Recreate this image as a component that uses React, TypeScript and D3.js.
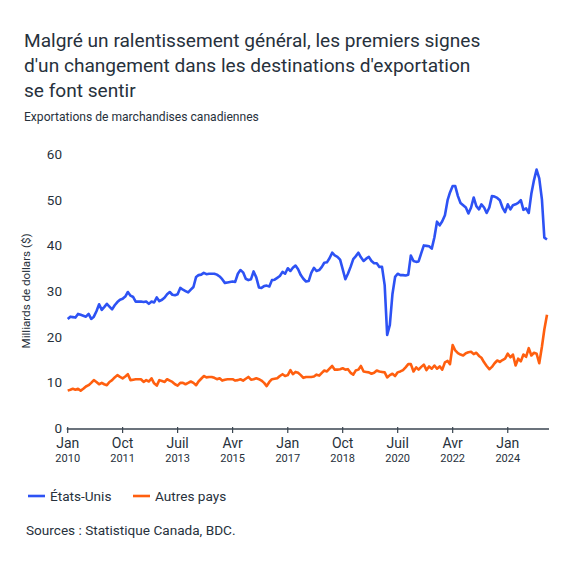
import React, { useEffect, useRef } from 'react';
import * as d3 from 'd3';

// monthly values, Jan 2010 onward (billions of $)
const usValues = [
  24.1, 24.6, 24.5, 24.4, 25.2, 25.0, 24.8, 24.6, 25.2, 24.1, 24.6, 25.8,
  27.3, 26.1, 26.7, 27.4, 26.8, 26.2, 27.1, 27.8, 28.3, 28.5, 29.0, 30.0,
  29.2, 28.9, 27.9, 27.9, 27.9, 27.8, 27.9, 27.4, 27.9, 27.7, 28.8, 28.0,
  28.3, 28.8, 29.5, 30.0, 29.4, 29.3, 29.5, 30.9, 30.5, 30.2, 29.9, 30.5,
  31.1, 33.3, 33.7, 33.8, 34.2, 33.9, 34.0, 34.0, 34.0, 33.8, 33.4, 32.8,
  32.0, 32.1, 32.2, 32.3, 32.2, 34.0, 34.8, 34.3, 32.9, 32.6, 32.8, 34.5,
  33.2, 31.0, 30.9, 31.3, 31.4, 31.2, 32.6, 32.7, 33.1, 33.5, 34.4, 34.0,
  35.2, 34.6, 35.3, 35.8, 35.0, 33.7, 32.9, 32.3, 32.4, 34.2, 35.3, 34.6,
  34.8, 35.5, 36.4, 36.5, 37.4, 38.6, 38.0, 37.7, 37.1, 35.0, 32.8, 34.0,
  35.5, 37.2, 37.8, 38.6, 37.6, 36.8, 37.3, 37.7, 36.8, 36.3, 36.3, 35.5,
  35.5, 31.5, 20.6, 22.8, 29.5, 33.3, 34.0, 33.7, 33.7, 33.6, 33.8, 38.0,
  36.8, 36.6, 36.7, 38.5, 40.2, 40.1, 40.0, 39.5, 42.0, 45.4, 44.6, 45.5,
  46.8, 50.1, 51.8, 53.2, 53.2, 51.0, 49.5, 49.0, 48.5, 47.2, 48.5, 50.7,
  48.8, 48.1, 49.2, 48.5, 47.3, 48.5, 51.0, 50.9, 50.6, 50.1, 48.5, 47.5,
  49.2, 48.1, 49.0, 49.2, 49.5, 50.1, 48.0, 48.3, 47.3, 51.5, 54.5, 56.8,
  54.9, 50.3, 41.9, 41.5,
];

const otherValues = [
  8.4, 8.6, 8.8, 8.6, 8.8, 8.4, 8.8, 9.3, 9.6, 10.1, 10.7, 10.3,
  9.8, 10.1, 9.8, 9.6, 10.3, 10.7, 11.3, 11.8, 11.4, 11.1, 11.5, 12.0,
  10.7, 10.8, 10.9, 10.9, 10.9, 10.3, 10.7, 10.4, 11.1, 10.0, 9.5, 10.7,
  10.5, 10.3, 10.9, 10.6, 10.3, 9.8, 9.5, 10.1, 10.1, 9.8, 10.1, 10.4,
  10.1, 9.6, 10.4, 11.0, 11.6, 11.3, 11.4, 11.4, 11.2, 10.9, 11.1, 10.6,
  10.8, 10.9, 10.9, 10.9, 10.6, 10.7, 10.9, 10.6, 11.0, 11.4, 10.8, 10.9,
  11.1, 10.9, 10.6, 10.1, 9.4, 10.3, 10.9, 11.0, 11.1, 11.6, 12.0, 11.6,
  11.8, 12.9, 12.0, 12.5, 12.3, 11.8, 11.2, 11.4, 11.4, 11.4, 11.5, 11.9,
  11.7, 12.3, 12.8, 12.6, 13.2, 13.8, 13.0, 13.0, 13.1, 13.3, 13.0, 13.1,
  12.3, 11.9, 12.8, 13.0, 13.8, 12.6, 12.5, 12.4, 12.1, 12.3, 12.8, 12.6,
  12.5, 12.4, 11.3, 11.8, 12.1, 11.6, 12.4, 12.6, 12.9, 13.5, 14.2, 14.2,
  12.6, 13.5, 13.0, 13.6, 14.1, 12.9, 13.7, 13.2, 13.9, 13.2, 13.7, 13.0,
  14.6, 14.9, 14.2, 18.4, 17.2, 16.6, 16.3, 16.1, 16.6, 16.8, 16.9, 16.4,
  16.7, 16.0, 15.6, 14.6, 13.8, 13.1, 13.6, 14.4, 15.0, 14.7, 15.1, 15.4,
  16.5, 15.7, 16.3, 13.9, 15.4, 14.8, 16.3, 15.8, 17.7, 16.1, 16.7, 16.5,
  14.4, 18.0, 21.8, 25.0,
];

const startMonth = new Date(2010, 0, 1);
const tickDates = ['2010-01', '2011-10', '2013-07', '2015-04', '2017-01', '2018-10', '2020-07', '2022-04', '2024-01'];
const tickMonths = ['Jan', 'Oct', 'Juil', 'Avr', 'Jan', 'Oct', 'Juil', 'Avr', 'Jan'];
const tickYears = ['2010', '2011', '2013', '2015', '2017', '2018', '2020', '2022', '2024'];
const yTicks = [0, 10, 20, 30, 40, 50, 60];

const seriesNames = ['États-Unis', 'Autres pays'];
const seriesColors = ['#2d52f4', '#ff5f0f'];

const titleLines = [
  'Malgré un ralentissement général, les premiers signes',
  "d'un changement dans les destinations d'exportation",
  'se font sentir',
];

const textColor = '#27313c';
const font = 'Roboto, "Noto Sans", sans-serif';

const App: React.FC = () => {
  const svgRef = useRef<SVGSVGElement | null>(null);

  useEffect(() => {
    if (!svgRef.current) return;
    const svg = d3.select(svgRef.current);
    svg.selectAll('*').remove();

    const lastDate = d3.timeMonth.offset(startMonth, usValues.length - 1);
    const x = d3.scaleTime().domain([startMonth, lastDate]).range([67.7, 547]);
    const y = d3.scaleLinear().domain([0, 60]).range([429, 155]);

    svg.append('rect').attr('width', 575).attr('height', 575).attr('fill', '#fff');

    // title + subtitle
    svg.selectAll('text.title')
      .data(titleLines)
      .join('text')
      .attr('class', 'title')
      .attr('x', 24)
      .attr('y', (_, i) => 47 + i * 25)
      .attr('font-size', 19.1)
      .attr('fill', textColor)
      .text((d) => d);

    svg.append('text')
      .attr('x', 24)
      .attr('y', 120.5)
      .attr('font-size', 12.1)
      .attr('fill', textColor)
      .text('Exportations de marchandises canadiennes');

    // y tick labels, no gridlines
    svg.selectAll('text.ytick')
      .data(yTicks)
      .join('text')
      .attr('class', 'ytick')
      .attr('x', 62)
      .attr('y', (d) => y(d))
      .attr('dy', '0.3em')
      .attr('text-anchor', 'end')
      .attr('font-size', 13.5)
      .attr('fill', textColor)
      .text((d) => d);

    svg.append('text')
      .attr('transform', `translate(29.5,${y(30) - 1}) rotate(-90)`)
      .attr('text-anchor', 'middle')
      .attr('font-size', 11.6)
      .attr('fill', textColor)
      .text('Milliards de dollars ($)');

    // x axis
    const parse = d3.timeParse('%Y-%m');
    const tDates = tickDates.map((d) => parse(d) as Date);
    svg.append('line')
      .attr('x1', x.range()[0] - 1)
      .attr('x2', 549)
      .attr('y1', y(0))
      .attr('y2', y(0))
      .attr('stroke', '#3a4550')
      .attr('stroke-width', 1.5);

    const tg = svg.selectAll('g.xtick')
      .data(tDates)
      .join('g')
      .attr('class', 'xtick')
      .attr('transform', (d) => `translate(${x(d)},${y(0)})`);
    tg.append('line').attr('y1', -2).attr('y2', 4).attr('stroke', '#3a4550').attr('stroke-width', 1.2);
    tg.append('text')
      .attr('y', 19)
      .attr('text-anchor', 'middle')
      .attr('font-size', 14)
      .attr('fill', textColor)
      .text((_, i) => tickMonths[i]);
    tg.append('text')
      .attr('y', 33)
      .attr('text-anchor', 'middle')
      .attr('font-size', 11)
      .attr('fill', textColor)
      .text((_, i) => tickYears[i]);

    // series lines
    const line = d3.line<number>()
      .x((_, i) => x(d3.timeMonth.offset(startMonth, i)))
      .y((d) => y(d));

    [usValues, otherValues].forEach((vals, k) => {
      svg.append('path')
        .datum(vals)
        .attr('fill', 'none')
        .attr('stroke', seriesColors[k])
        .attr('stroke-width', 2.6)
        .attr('stroke-linejoin', 'round')
        .attr('d', line);
    });

    // legend
    const legendX = [28, 133];
    const lg = svg.selectAll('g.legend')
      .data(seriesNames)
      .join('g')
      .attr('class', 'legend')
      .attr('transform', (_, i) => `translate(${legendX[i]},496)`);
    lg.append('line').attr('x1', 0).attr('x2', 17).attr('stroke', (_, i) => seriesColors[i]).attr('stroke-width', 2.6);
    lg.append('text')
      .attr('x', 22)
      .attr('dy', '0.36em')
      .attr('font-size', 13.6)
      .attr('fill', textColor)
      .text((d) => d);

    svg.append('text')
      .attr('x', 26)
      .attr('y', 535)
      .attr('font-size', 13.6)
      .attr('fill', textColor)
      .text('Sources : Statistique Canada, BDC.');
  }, []);

  return (
    <svg
      ref={svgRef}
      width={575}
      height={575}
      style={{ position: 'absolute', left: 0, top: 0, fontFamily: font }}
    />
  );
};

export default App;
